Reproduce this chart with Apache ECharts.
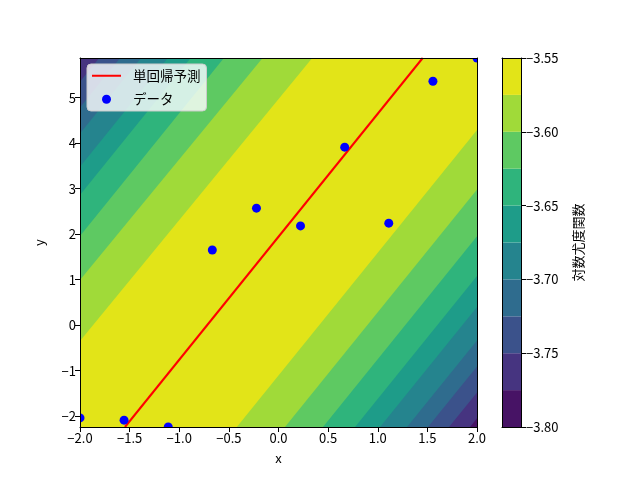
<!DOCTYPE html>
<html>
<head>
<meta charset="utf-8">
<script src="https://cdn.jsdelivr.net/npm/echarts@6/dist/echarts.min.js"></script>
<style>
  html, body { margin: 0; padding: 0; background: #fff; }
  #chart { width: 640px; height: 480px; }
</style>
</head>
<body>
<div id="chart"></div>
<script>
// data points
const xData = [-2.0, -1.556, -1.111, -0.667, -0.222, 0.222, 0.667, 1.111, 1.556, 2.0];
const yData = [-2.04, -2.09, -2.24, 1.65, 2.57, 2.18, 3.91, 2.24, 5.36, 5.87];
// fitted line, read where it leaves the plot
const fitX = [-1.547, 1.453];
const fitY = [-2.24, 5.87];

// contour levels and colours (viridis)
const levels = [-3.80, -3.775, -3.75, -3.725, -3.70, -3.675, -3.65, -3.625, -3.60, -3.575, -3.55];
const bandColors = ['#471365', '#463480', '#3b528b', '#2f6c8e', '#25848e',
                    '#1e9c89', '#2fb47c', '#5ec962', '#a0da39', '#e2e418'];
const cbTicks = [-3.80, -3.75, -3.70, -3.65, -3.60, -3.55];

// contour boundaries below/right of the fit: x on bottom edge, y on right edge
const lowerLevels = [-3.575, -3.6, -3.625, -3.65, -3.675, -3.7, -3.725, -3.75, -3.775];
const lowerBottomX = [-0.42, 0.065, 0.448, 0.771, 1.023, 1.295, 1.506, 1.718, 1.930];
const lowerRightY = [4.29, 2.98, 1.95, 1.08, 0.40, -0.34, -0.91, -1.48, -2.05];
// contour boundaries above/left of the fit: y on left edge, x on top edge
const upperLevels = [-3.575, -3.6, -3.625, -3.65, -3.675, -3.7, -3.725, -3.75];
const upperLeftY = [-0.35, 0.99, 1.96, 2.86, 3.48, 4.21, 4.78, 5.35];
const upperTopX = [0.34, -0.16, -0.55, -0.885, -1.115, -1.385, -1.596, -1.807];

const yTicks = [-2, -1, 0, 1, 2, 3, 4, 5];

const xMin = -2, xMax = 2;
const yMin = Math.min(...yData), yMax = Math.max(...yData);

const FONT = "'Noto Sans CJK JP', sans-serif";
const minus = (s) => s.replace('-', '\u2212');

let boundaries = [];
lowerLevels.forEach(function (lv, i) {
    boundaries.push([lowerBottomX[i], yMin, xMax, lowerRightY[i], 1, levels.indexOf(lv) - 1]);
});
upperLevels.forEach(function (lv, i) {
    boundaries.push([xMin, upperLeftY[i], upperTopX[i], yMax, -1, levels.indexOf(lv) - 1]);
});

function clipOf(params) {
    let cs = params.coordSys;
    return {type: 'rect', shape: {x: cs.x, y: cs.y, width: cs.width, height: cs.height}};
}

function renderTopBand(params, api) {
    let cs = params.coordSys;
    return {
        type: 'rect',
        shape: {x: cs.x, y: cs.y, width: cs.width, height: cs.height},
        style: {fill: bandColors[bandColors.length - 1]}
    };
}

function renderBoundary(params, api) {
    let p1 = api.coord([api.value(0), api.value(1)]);
    let p2 = api.coord([api.value(2), api.value(3)]);
    let side = api.value(4);
    let dx = p2[0] - p1[0], dy = p2[1] - p1[1];
    let len = Math.hypot(dx, dy);
    let ux = dx / len * 3000, uy = dy / len * 3000;
    let a = [p1[0] - ux, p1[1] - uy];
    let b = [p2[0] + ux, p2[1] + uy];
    let off = side * 3000;
    return {
        type: 'polygon',
        shape: {points: [a, b, [b[0] + off, b[1]], [a[0] + off, a[1]]]},
        style: {fill: bandColors[api.value(5)]},
        clipPath: clipOf(params)
    };
}

function renderDot(params, api) {
    let p = api.coord([api.value(0), api.value(1)]);
    return {
        type: 'circle',
        shape: {cx: p[0], cy: p[1], r: 4.5},
        style: {fill: '#0000ff'},
        clipPath: clipOf(params)
    };
}

function renderColorbar(params, api) {
    let lo = api.coord([0, api.value(0)]);
    let hi = api.coord([1, api.value(1)]);
    return {
        type: 'rect',
        shape: {x: lo[0], y: hi[1], width: hi[0] - lo[0], height: lo[1] - hi[1]},
        style: {fill: bandColors[params.dataIndex]}
    };
}

const lineOnly = {
    axisLine: {show: true, onZero: false, lineStyle: {color: '#000', width: 1}},
    axisTick: {show: false},
    axisLabel: {show: false},
    splitLine: {show: false},
    z: 10
};
const tickStyle = {show: true, inside: false, length: 5, lineStyle: {color: '#000', width: 1}};

let myChart = echarts.init(document.getElementById('chart'));
myChart.setOption({
    animation: false,
    textStyle: {fontFamily: FONT},
    grid: [
        {left: 80, top: 58, width: 397, height: 369},
        {left: 502, top: 58, width: 19, height: 369}
    ],
    legend: {
        left: 87, top: 64,
        orient: 'vertical',
        data: [
            {name: '単回帰予測', icon: 'path://M0,0L29,0L29,2L0,2Z'},
            {name: 'データ', icon: 'circle'}
        ],
        itemWidth: 29, itemHeight: 9, itemGap: 10,
        backgroundColor: 'rgba(255,255,255,0.8)',
        borderColor: '#cccccc', borderWidth: 1, borderRadius: 4,
        padding: [5, 6, 5, 5],
        textStyle: {fontFamily: FONT, fontSize: 13.5, color: '#000', padding: [0, 0, 0, 7]},
        z: 20
    },
    xAxis: [
        {
            gridIndex: 0, type: 'value', min: xMin, max: xMax, interval: 0.5, position: 'bottom',
            name: 'x', nameLocation: 'middle', nameGap: 25,
            nameTextStyle: {color: '#000', fontSize: 13, fontFamily: FONT},
            axisLine: {show: true, onZero: false, lineStyle: {color: '#000', width: 1}},
            axisTick: tickStyle,
            axisLabel: {color: '#000', fontSize: 13, margin: 5, fontFamily: FONT,
                formatter: (v) => minus(v.toFixed(1))},
            splitLine: {show: false},
            z: 10
        },
        Object.assign({gridIndex: 0, type: 'value', min: xMin, max: xMax, position: 'top'}, lineOnly),
        Object.assign({gridIndex: 1, type: 'value', min: 0, max: 1, position: 'bottom'}, lineOnly),
        Object.assign({gridIndex: 1, type: 'value', min: 0, max: 1, position: 'top'}, lineOnly)
    ],
    yAxis: [
        {
            gridIndex: 0, type: 'value', min: yMin, max: yMax, position: 'left',
            name: 'y', nameLocation: 'middle', nameGap: 34,
            nameTextStyle: {color: '#000', fontSize: 13, fontFamily: FONT},
            axisLine: {show: true, onZero: false, lineStyle: {color: '#000', width: 1}},
            axisTick: Object.assign({customValues: yTicks}, tickStyle),
            axisLabel: {color: '#000', fontSize: 13, margin: 4, fontFamily: FONT,
                customValues: yTicks, formatter: (v) => minus(String(Math.round(v)))},
            splitLine: {show: false},
            z: 10
        },
        Object.assign({gridIndex: 0, type: 'value', min: yMin, max: yMax, position: 'right'}, lineOnly),
        {
            gridIndex: 1, type: 'value', min: levels[0], max: levels[levels.length - 1], position: 'right',
            name: '対数尤度関数', nameLocation: 'middle', nameGap: 51, nameRotate: 90,
            nameTextStyle: {color: '#000', fontSize: 13, fontFamily: FONT},
            axisLine: {show: true, onZero: false, lineStyle: {color: '#000', width: 1}},
            axisTick: Object.assign({customValues: cbTicks}, tickStyle),
            axisLabel: {color: '#000', fontSize: 13, margin: 5, fontFamily: FONT,
                customValues: cbTicks, formatter: (v) => minus(v.toFixed(2))},
            splitLine: {show: false},
            z: 10
        },
        Object.assign({gridIndex: 1, type: 'value', min: levels[0], max: levels[levels.length - 1], position: 'left'}, lineOnly)
    ],
    series: [
        {
            name: 'band', type: 'custom', xAxisIndex: 0, yAxisIndex: 0,
            renderItem: renderTopBand, data: [[0, 0]], z: 1, silent: true
        },
        {
            name: 'contour', type: 'custom', xAxisIndex: 0, yAxisIndex: 0,
            renderItem: renderBoundary, data: boundaries,
            encode: {x: [0, 2], y: [1, 3]}, z: 1, silent: true
        },
        {
            name: '単回帰予測', type: 'line', xAxisIndex: 0, yAxisIndex: 0,
            data: fitX.map((x, i) => [x, fitY[i]]),
            symbol: 'none', clip: true,
            lineStyle: {color: '#ff0000', width: 2},
            itemStyle: {color: '#ff0000'},
            z: 3
        },
        {
            name: 'データ', type: 'custom', xAxisIndex: 0, yAxisIndex: 0,
            renderItem: renderDot, data: xData.map((x, i) => [x, yData[i]]),
            itemStyle: {color: '#0000ff'}, z: 4
        },
        {
            name: 'colorbar', type: 'custom', xAxisIndex: 2, yAxisIndex: 2,
            renderItem: renderColorbar,
            data: bandColors.map((c, i) => [levels[i], levels[i + 1]]),
            encode: {y: [0, 1]}, z: 1, silent: true
        }
    ]
});
</script>
</body>
</html>
